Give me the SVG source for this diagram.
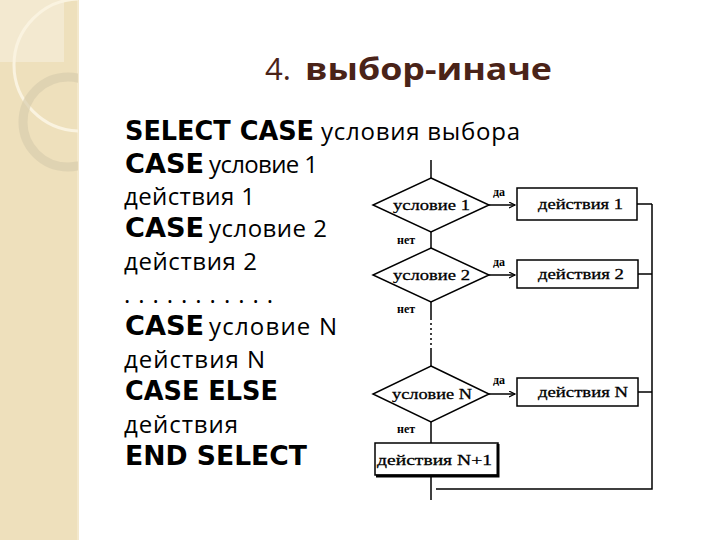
<svg xmlns="http://www.w3.org/2000/svg" width="720" height="540" viewBox="0 0 720 540">
<style>
.title{font-family:"Open Sans","Noto Sans",sans-serif;fill:#4A2318;font-size:31px}
.b{font-family:"DejaVu Sans",sans-serif;font-weight:bold;font-size:26px;fill:#000}
.r{font-family:"Open Sans","Noto Sans",sans-serif;font-size:24px;fill:#000}
.ft{font-family:"Liberation Serif","Times New Roman",serif;font-size:15px;fill:#000;stroke:#000;stroke-width:0.3}
.fl{font-family:"Liberation Serif","Times New Roman",serif;font-size:12px;fill:#000;font-weight:bold}
.shape{fill:#fff;stroke:#000;stroke-width:1.5}
.ln{fill:none;stroke:#000;stroke-width:1.5}
</style>
<defs>
<clipPath id="sb"><rect x="0" y="0" width="78" height="540"/></clipPath>
<marker id="ah" markerWidth="8" markerHeight="8" refX="6" refY="3" orient="auto" markerUnits="userSpaceOnUse">
<path d="M0,0 L6,3 L0,6" fill="none" stroke="#000" stroke-width="1.2"/>
</marker>
</defs>
<rect width="720" height="540" fill="#fff"/>
<g id="sidebar">
<rect x="0" y="0" width="78" height="540" fill="#EEE0BC"/>
<rect x="0" y="0" width="64" height="62" fill="#F3E9D0"/>
<rect x="77" y="0" width="2" height="540" fill="#F3E8CC"/>
<g clip-path="url(#sb)">
<circle cx="80" cy="65" r="66" fill="none" stroke="#FAF3E0" stroke-width="3"/>
<circle cx="68" cy="122" r="45" fill="none" stroke="#D8CDAE" stroke-width="9" opacity="0.7"/>
</g>
</g>
<g id="title">
<text class="title" x="265" y="80">4.</text>
<text class="title" x="305" y="80" font-weight="bold" textLength="247" lengthAdjust="spacingAndGlyphs">выбор-иначе</text>
</g>
<g id="code">
<text class="b" x="125" y="140" textLength="189" lengthAdjust="spacingAndGlyphs">SELECT CASE</text>
<text class="r" x="321" y="140" textLength="199">условия выбора</text>
<text class="b" x="125" y="173" textLength="79" lengthAdjust="spacingAndGlyphs">CASE</text>
<text class="r" x="209" y="173" textLength="109">условие 1</text>
<text class="r" x="124" y="205" textLength="131">действия 1</text>
<text class="b" x="125" y="237" textLength="79" lengthAdjust="spacingAndGlyphs">CASE</text>
<text class="r" x="209" y="237" textLength="118">условие 2</text>
<text class="r" x="124" y="270" textLength="133">действия 2</text>
<text class="r" x="124" y="303" textLength="149">. . . . . . . . . . .</text>
<text class="b" x="125" y="335" textLength="79" lengthAdjust="spacingAndGlyphs">CASE</text>
<text class="r" x="209" y="335" textLength="128">условие N</text>
<text class="r" x="124" y="368" textLength="141">действия N</text>
<text class="b" x="125" y="400" textLength="153" lengthAdjust="spacingAndGlyphs">CASE ELSE</text>
<text class="r" x="124" y="433" textLength="114">действия</text>
<text class="b" x="125" y="465" textLength="182" lengthAdjust="spacingAndGlyphs">END SELECT</text>
</g>
<g id="connectors">
<path class="ln" d="M431,160 V178"/>
<path class="ln" d="M489,205 H515" stroke-width="2" marker-end="url(#ah)"/>
<path class="ln" d="M431,232 V248"/>
<path class="ln" d="M489,275 H515" stroke-width="1" marker-end="url(#ah)"/>
<path class="ln" d="M431,302 V318"/>
<path class="ln" d="M431,318 V350" stroke-width="1" stroke-dasharray="2,3"/>
<path class="ln" d="M431,350 V366"/>
<path class="ln" d="M489,394 H515" stroke-width="2" marker-end="url(#ah)"/>
<path class="ln" d="M431,422 V443"/>
<path class="ln" d="M431,475 V500"/>
<path class="ln" d="M637,204 H652 M638,274 H652 M638,392 H652 M652,204 V489 H436"/>
</g>
<g id="d1">
<polygon class="shape" points="431,178 489,205 431,232 373,205"/>
<text class="ft" x="393" y="210" textLength="77" lengthAdjust="spacingAndGlyphs">условие 1</text>
<text class="fl" x="493" y="196">да</text>
<text class="fl" x="397" y="244">нет</text>
</g>
<g id="b1">
<rect class="shape" x="517" y="188" width="120" height="32"/>
<text class="ft" x="538" y="209" textLength="85" lengthAdjust="spacingAndGlyphs">действия 1</text>
</g>
<g id="d2">
<polygon class="shape" points="431,248 489,275 431,302 373,275"/>
<text class="ft" x="393" y="280" textLength="77" lengthAdjust="spacingAndGlyphs">условие 2</text>
<text class="fl" x="493" y="266">да</text>
<text class="fl" x="397" y="313">нет</text>
</g>
<g id="b2">
<rect class="shape" x="517" y="260" width="121" height="28"/>
<text class="ft" x="538" y="279" textLength="86" lengthAdjust="spacingAndGlyphs">действия 2</text>
</g>
<g id="dN">
<polygon class="shape" points="431,366 489,394 431,422 373,394"/>
<text class="ft" x="392" y="399" textLength="80" lengthAdjust="spacingAndGlyphs">условие N</text>
<text class="fl" x="493" y="384">да</text>
<text class="fl" x="397" y="433">нет</text>
</g>
<g id="bN">
<rect class="shape" x="517" y="378" width="121" height="28"/>
<text class="ft" x="538" y="397" textLength="90" lengthAdjust="spacingAndGlyphs">действия N</text>
</g>
<g id="bN1">
<rect class="shape" x="375" y="443" width="123" height="32"/>
<path d="M498,444 V476 H376" fill="none" stroke="#000" stroke-width="3"/>
<text class="ft" x="377" y="465" textLength="115" lengthAdjust="spacingAndGlyphs">действия N+1</text>
</g>
</svg>
